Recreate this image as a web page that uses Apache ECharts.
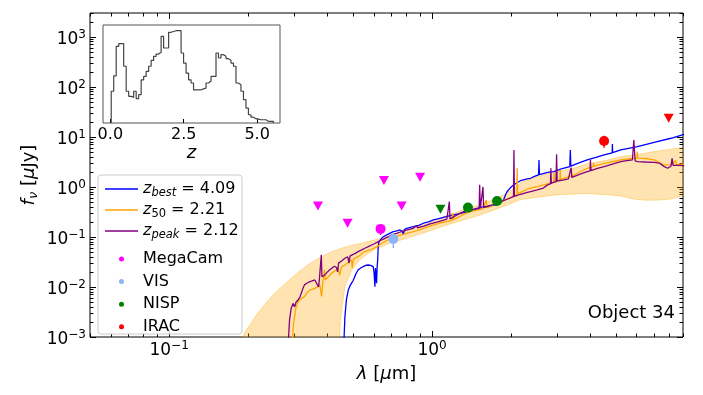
<!DOCTYPE html>
<html>
<head>
<meta charset="utf-8">
<script src="https://cdn.jsdelivr.net/npm/echarts@6/dist/echarts.min.js"></script>
<style>
html,body{margin:0;padding:0;background:#fff;}
#main{width:703px;height:395px;}
</style>
</head>
<body>
<div id="main"></div>
<script>
var FONT = 'DejaVu Sans';

// best-fit SEDs, [lambda in um, f_nu in uJy]
var zBestSed = [
  [0.461,0.0006],[0.466,0.0025],[0.472,0.0055],[0.480,0.0087],[0.487,0.0105],[0.494,0.0119],
  [0.501,0.0135],[0.508,0.0161],[0.515,0.019],[0.523,0.0219],[0.535,0.024],[0.547,0.0255],
  [0.559,0.027],[0.571,0.0275],[0.584,0.027],[0.597,0.0255],[0.602,0.0187],[0.606,0.0101],
  [0.609,0.024],[0.612,0.0255],[0.615,0.0119],[0.618,0.025],[0.621,0.0346],[0.624,0.064],
  [0.628,0.0807],[0.633,0.087],[0.650,0.10],[0.672,0.11],[0.690,0.118],[0.712,0.128],
  [0.735,0.132],[0.755,0.138],[0.770,0.13],[0.777,0.11],[0.785,0.14],[0.800,0.149],
  [0.849,0.161],[0.89,0.17],[0.927,0.188],[0.97,0.20],[1.011,0.219],[1.05,0.23],
  [1.105,0.247],[1.15,0.26],[1.206,0.275],[1.26,0.29],[1.317,0.307],[1.38,0.33],
  [1.438,0.357],[1.525,0.392],[1.60,0.41],[1.70,0.43],[1.766,0.437],[1.82,0.48],
  [1.87,0.55],[1.90,0.68],[1.93,0.81],[1.98,0.95],[2.04,1.1],[2.10,1.2],[2.17,1.33],
  [2.30,1.45],[2.37,1.49],[2.45,1.62],[2.54,1.74],[2.55,3.47],[2.56,1.76],[2.75,1.95],
  [2.90,2.03],[3.10,2.3],[3.34,2.55],[3.355,5.5],[3.37,2.6],[3.60,3.0],[3.89,3.47],
  [4.20,3.9],[4.51,4.37],[4.84,4.8],[4.85,7.2],[4.86,4.85],[5.22,5.5],[6.04,6.4],
  [6.99,7.8],[8.10,9.4],[9.08,11.3]
];
var z50Sed = [
  [0.293,0.0006],[0.297,0.0018],[0.300,0.00255],[0.304,0.0040],[0.309,0.0050],[0.314,0.0055],
  [0.320,0.0060],[0.327,0.0064],[0.335,0.0078],[0.343,0.0087],[0.350,0.0090],[0.358,0.0094],
  [0.366,0.0100],[0.374,0.0110],[0.380,0.0065],[0.384,0.0120],[0.390,0.022],[0.392,0.0138],
  [0.403,0.0160],[0.415,0.0188],[0.427,0.021],[0.439,0.0237],[0.445,0.017],[0.452,0.025],
  [0.466,0.0275],[0.480,0.031],[0.494,0.0346],[0.497,0.024],[0.502,0.036],[0.523,0.0404],
  [0.540,0.046],[0.555,0.051],[0.572,0.054],[0.589,0.0567],[0.606,0.061],[0.613,0.066],
  [0.624,0.066],[0.642,0.074],[0.662,0.0807],[0.680,0.087],[0.702,0.094],[0.760,0.110],
  [0.849,0.128],[0.90,0.140],[0.95,0.155],[1.00,0.170],[1.07,0.190],[1.138,0.203],
  [1.19,0.215],[1.197,0.30],[1.205,0.222],[1.26,0.25],[1.33,0.29],[1.40,0.32],[1.46,0.34],
  [1.525,0.358],[1.56,0.37],[1.607,0.55],[1.615,0.38],[1.70,0.43],[1.80,0.49],[1.90,0.56],
  [2.00,0.62],[2.10,0.70],[2.107,2.36],[2.115,0.72],[2.17,0.78],[2.30,0.90],[2.37,0.95],
  [2.51,1.01],[2.70,1.12],[2.90,1.25],[2.91,1.9],[2.92,1.27],[3.06,1.38],[3.07,2.2],
  [3.08,1.4],[3.17,1.49],[3.47,1.75],[3.89,2.36],[4.10,2.55],[4.11,3.0],[4.13,2.6],
  [4.51,2.97],[5.00,3.3],[5.22,3.47],[5.80,3.7],[6.02,3.75],[6.03,5.1],[6.05,3.75],
  [6.50,3.7],[6.99,3.47],[7.30,3.1],[7.64,2.75],[8.20,2.8],[8.44,3.4],[8.50,2.8],[9.08,2.85]
];
var zPeakSed = [
  [0.283,0.0006],[0.287,0.0022],[0.291,0.0037],[0.296,0.0047],[0.300,0.0040],[0.304,0.0050],
  [0.309,0.0055],[0.314,0.0062],[0.318,0.0075],[0.323,0.0095],[0.327,0.011],[0.335,0.012],
  [0.343,0.0128],[0.350,0.0132],[0.358,0.0138],[0.364,0.0145],[0.370,0.0100],[0.373,0.0150],
  [0.377,0.0152],[0.379,0.044],[0.381,0.016],[0.391,0.0174],[0.400,0.020],[0.408,0.022],
  [0.415,0.0237],[0.425,0.026],[0.433,0.0245],[0.437,0.020],[0.441,0.030],[0.455,0.034],
  [0.466,0.0375],[0.478,0.040],[0.483,0.030],[0.488,0.042],[0.494,0.0437],[0.510,0.047],
  [0.523,0.051],[0.540,0.055],[0.555,0.0594],[0.572,0.064],[0.589,0.069],[0.596,0.075],
  [0.606,0.074],[0.624,0.0807],[0.642,0.087],[0.662,0.094],[0.680,0.100],[0.702,0.110],
  [0.733,0.118],[0.770,0.13],[0.810,0.14],[0.849,0.149],[0.873,0.17],[0.880,0.152],
  [0.930,0.165],[0.983,0.182],[1.05,0.20],[1.10,0.215],[1.138,0.226],[1.155,0.23],
  [1.163,0.51],[1.170,0.23],[1.25,0.28],[1.317,0.321],[1.40,0.345],[1.48,0.365],
  [1.510,0.37],[1.517,1.1],[1.525,0.374],[1.545,0.38],[1.562,1.0],[1.570,0.385],
  [1.65,0.42],[1.766,0.471],[1.85,0.52],[1.95,0.58],[2.04,0.64],[2.048,5.5],[2.056,0.65],
  [2.17,0.714],[2.30,0.78],[2.37,0.81],[2.51,0.87],[2.65,0.95],[2.75,1.1],[2.82,1.15],
  [2.83,2.36],[2.84,1.18],[2.90,1.24],[2.96,1.27],[2.975,4.5],[2.99,1.3],[3.17,1.38],
  [3.30,1.45],[3.38,2.43],[3.40,1.55],[3.46,1.61],[3.70,1.85],[3.89,2.03],[3.99,2.1],
  [4.00,3.47],[4.02,2.12],[4.25,2.35],[4.51,2.55],[4.85,2.85],[5.22,3.21],[5.50,3.35],
  [5.78,3.47],[5.85,8.7],[5.92,3.3],[6.04,3.21],[6.50,3.15],[6.99,3.11],[7.30,3.0],
  [7.64,2.55],[7.87,2.36],[8.10,2.6],[8.18,3.75],[8.25,2.7],[8.60,2.7],[9.10,2.67]
];
// 16-84 percentile envelope
var bandUpper = [
  [0.185,0.0006],[0.193,0.0012],[0.205,0.0019],[0.217,0.0030],[0.235,0.0050],[0.252,0.0075],
  [0.270,0.0105],[0.291,0.0149],[0.315,0.021],[0.337,0.0275],[0.365,0.036],[0.391,0.0437],
  [0.420,0.052],[0.452,0.0594],[0.490,0.067],[0.523,0.0724],[0.565,0.080],[0.606,0.087],
  [0.650,0.097],[0.702,0.110],[0.800,0.135],[0.900,0.165],[1.00,0.20],[1.14,0.27],
  [1.30,0.34],[1.52,0.44],[1.80,0.62],[2.00,0.85],[2.20,1.25],[2.50,1.60],[2.90,1.95],
  [3.40,2.30],[3.90,2.90],[4.60,3.40],[5.20,4.00],[6.30,4.60],[7.00,5.10],[9.10,6.20]
];
var bandLower = [
  [0.440,0.0006],[0.445,0.0010],[0.448,0.0022],[0.466,0.0102],[0.494,0.0219],[0.531,0.0347],
  [0.571,0.0471],[0.615,0.059],[0.691,0.0747],[0.800,0.094],[0.95,0.125],[1.14,0.174],
  [1.52,0.275],[1.90,0.42],[2.17,0.56],[2.50,0.62],[3.00,0.70],[3.90,0.74],[4.60,0.70],
  [5.20,0.66],[5.90,0.57],[6.60,0.54],[7.40,0.55],[8.20,0.58],[9.10,0.68]
];

// photometry: [lambda, flux] and [lambda, flux, error]
var megacamLimits = [[0.368,0.417],[0.477,0.188],[0.656,1.34],[0.766,0.417],[0.900,1.56]];
var megacamPoints = [[0.637,0.145,0.035]];
var visPoints = [[0.712,0.091,0.031]];
var nispLimits = [[1.076,0.357]];
var nispPoints = [[1.369,0.386,0.02],[1.766,0.525,0.03]];
var iracPoints = [[4.51,8.3,2.2]];
var iracLimits = [[7.94,23.6]];

// inset redshift histogram
var histStart = 0.03;
var histWidth = 0.085;
var histCounts = [
  11.5,42,501,624,624,94,11.5,7.5,6.9,11.5,6.2,8.6,30,40,61,94,155,216,262,303,
  1162,435,435,1626,1738,1858,1858,1858,286,123,53,30,23,13,13,13,14,15,23,27,
  40,40,286,188,248,216,177,155,123,94,23,20,11.5,5.7,2.8,1.6,1.3,1.15,1.1,1.05,
  1.05,1.05,0.92,0.92,0.92
];

var xLabelTicks = [-1, 0];
var yLabelTicks = [-3, -2, -1, 0, 1, 2, 3];
var insetLabelTicks = [0, 2.5, 5];

var XMIN = 0.05, XMAX = 9, YMIN = 0.001, YMAX = 3000;
var HMIN = 0.8, HMAX = 3000;

function lg(p) { return [Math.log10(p[0]), Math.log10(p[1])]; }

function logTicks(lo, hi, minor) {
  var out = [];
  for (var e = -4; e <= 4; e++) {
    var k0 = minor ? 2 : 1, k1 = minor ? 9 : 1;
    for (var k = k0; k <= k1; k++) {
      var v = k * Math.pow(10, e);
      if (v >= lo * 0.999 && v <= hi * 1.001) out.push(Math.log10(v));
    }
  }
  return out;
}

function powLabel(v) {
  var e = Math.round(v);
  return '{b|10}{s|' + (e < 0 ? '\u2212' + (-e) : e) + '}';
}
var powRich = {
  b: { fontFamily: FONT, fontSize: 17, color: '#000', lineHeight: 22 },
  s: { fontFamily: FONT, fontSize: 12, color: '#000', lineHeight: 10, verticalAlign: 'top' }
};

function tickAxis(grid, pos, lo, hi, ticks, len) {
  return {
    gridIndex: grid, type: 'value', position: pos,
    min: Math.log10(lo), max: Math.log10(hi),
    axisLine: { show: false, onZero: false }, splitLine: { show: false },
    axisTick: { show: true, inside: true, length: len, customValues: ticks,
      lineStyle: { color: '#000', width: 1 } },
    axisLabel: { show: false }
  };
}

var xMajor = logTicks(XMIN, XMAX, false), xMinor = logTicks(XMIN, XMAX, true);
var yMajor = logTicks(YMIN, YMAX, false), yMinor = logTicks(YMIN, YMAX, true);

var xMain = tickAxis(0, 'bottom', XMIN, XMAX, xMajor, 6);
xMain.axisLabel = { show: true, customValues: xLabelTicks, formatter: powLabel, margin: 3, rich: powRich };
xMain.name = '{i|\u03bb} [{i|\u00b5}m]';
xMain.nameLocation = 'middle';
xMain.nameGap = 28;
xMain.nameTextStyle = { fontFamily: FONT, fontSize: 18, color: '#000',
  rich: { i: { fontFamily: FONT, fontSize: 18, fontStyle: 'italic', color: '#000' } } };

var yMain = tickAxis(0, 'left', YMIN, YMAX, yMajor, 6);
yMain.axisLabel = { show: true, customValues: yLabelTicks, formatter: powLabel, margin: 4,
  padding: [6, 0, 0, 0], rich: powRich };
yMain.name = '{i|f}{s|\u03bd} [{i|\u00b5}Jy]';
yMain.nameLocation = 'middle';
yMain.nameGap = 50;
yMain.nameMoveOverlap = false;
yMain.nameTextStyle = { fontFamily: FONT, fontSize: 18, color: '#000',
  rich: {
    i: { fontFamily: FONT, fontSize: 18, fontStyle: 'italic', color: '#000', lineHeight: 22 },
    s: { fontFamily: FONT, fontSize: 13, fontStyle: 'italic', color: '#000', lineHeight: 10, verticalAlign: 'bottom' }
  } };

// inset axes
var insetX = {
  gridIndex: 1, type: 'value', min: -0.25, max: 5.78,
  axisLine: { show: false, onZero: false }, splitLine: { show: false },
  axisTick: { show: true, inside: true, length: 4, customValues: insetLabelTicks, lineStyle: { color: '#000' } },
  axisLabel: { customValues: insetLabelTicks, margin: 4, fontFamily: FONT, fontSize: 16, color: '#000',
    formatter: function (v) { return v.toFixed(1); } },
  name: 'z', nameLocation: 'middle', nameGap: 20,
  nameTextStyle: { fontFamily: FONT, fontSize: 18, fontStyle: 'italic', color: '#000' }
};
var insetY = {
  gridIndex: 1, type: 'value', min: Math.log10(HMIN), max: Math.log10(HMAX),
  axisLine: { show: false, onZero: false }, splitLine: { show: false }, axisTick: { show: false }, axisLabel: { show: false }
};

var histLine = [[histStart, Math.log10(HMIN)]];
histCounts.forEach(function (c, i) { histLine.push([histStart + i * histWidth, Math.log10(c)]); });
var histEnd = histStart + histCounts.length * histWidth;
histLine.push([histEnd, Math.log10(histCounts[histCounts.length - 1])]);
histLine.push([histEnd, Math.log10(HMIN)]);

function sedLine(name, data, color) {
  return { name: name, type: 'line', data: data.map(lg), symbol: 'none', showSymbol: false,
    lineStyle: { color: color, width: 1.3 }, itemStyle: { color: color }, z: 3, clip: true, silent: true };
}
function pts(name, data, color, limit) {
  return { name: name, type: 'scatter', data: data.map(lg), z: 6,
    symbol: limit ? 'triangle' : 'circle', symbolRotate: limit ? 180 : 0,
    symbolSize: limit ? [10, 9] : 10, itemStyle: { color: color, opacity: 1 } };
}
function errBars(data, color) {
  return { type: 'custom', z: 5, silent: true,
    data: data.map(function (p) { return [Math.log10(p[0]), Math.log10(p[1] - p[2]), Math.log10(p[1] + p[2])]; }),
    renderItem: function (params, api) {
      var a = api.coord([api.value(0), api.value(1)]);
      var b = api.coord([api.value(0), api.value(2)]);
      return { type: 'line', shape: { x1: a[0], y1: a[1], x2: b[0], y2: b[1] },
        style: { stroke: color, lineWidth: 1.5 } };
    } };
}

var bandSeries = {
  type: 'custom', z: 1, silent: true, data: [[0, 0]],
  renderItem: function (params, api) {
    var pts = bandUpper.map(function (p) { return api.coord(lg(p)); });
    bandLower.slice().reverse().forEach(function (p) { pts.push(api.coord(lg(p))); });
    var cs = params.coordSys;
    return { type: 'polygon', shape: { points: pts },
      style: { fill: 'rgba(255,165,0,0.3)', stroke: 'rgba(255,165,0,0.35)', lineWidth: 1 },
      clipPath: { type: 'rect', shape: { x: cs.x, y: cs.y, width: cs.width, height: cs.height } } };
  }
};

var legendText = {
  zbest: '{i|z}{s|best}{t| = 4.09}',
  z50: '{i|z}{d|50}{t| = 2.21}',
  zpeak: '{i|z}{s|peak}{t| = 2.12}'
};
// legend glyphs: a short line, and a small dot centred in the same width
var lineIcon = 'path://M0,0H33V1.5H0Z';
var dotIcon = 'path://M0,2.5L0.01,2.5Z M33,2.5L32.99,2.5Z M14,2.5A2.5,2.5,0,1,1,19,2.5A2.5,2.5,0,1,1,14,2.5Z';

var chart = echarts.init(document.getElementById('main'));
chart.setOption({
  animation: false,
  backgroundColor: '#fff',
  title: { text: 'Object 34', right: 28, top: 304, padding: 0,
    textStyle: { fontFamily: FONT, fontSize: 18, fontWeight: 'normal', color: '#000' } },
  grid: [
    { left: 90, right: 20, top: 13, bottom: 58, show: true, borderColor: '#000', borderWidth: 1, backgroundColor: 'transparent' },
    { left: 103, top: 25, width: 177, height: 98, show: true, borderColor: '#555', borderWidth: 1, backgroundColor: '#fff' }
  ],
  xAxis: [
    xMain,
    tickAxis(0, 'bottom', XMIN, XMAX, xMinor, 3.5),
    tickAxis(0, 'top', XMIN, XMAX, xMajor, 6),
    tickAxis(0, 'top', XMIN, XMAX, xMinor, 3.5),
    insetX
  ],
  yAxis: [
    yMain,
    tickAxis(0, 'left', YMIN, YMAX, yMinor, 3.5),
    tickAxis(0, 'right', YMIN, YMAX, yMajor, 6),
    tickAxis(0, 'right', YMIN, YMAX, yMinor, 3.5),
    insetY
  ],
  graphic: [{
    type: 'rect', z: 20, shape: { x: 98, y: 175, width: 144, height: 159, r: 3 },
    style: { fill: 'rgba(255,255,255,0.8)', stroke: '#cccccc', lineWidth: 1 }
  }],
  legend: [
    { z: 21, left: 105, top: 181, orient: 'vertical', padding: 0, itemGap: 3, itemWidth: 33, itemHeight: 14,
      icon: lineIcon, selectedMode: false, data: ['zbest', 'z50', 'zpeak'],
      formatter: function (n) { return legendText[n]; },
      textStyle: { fontFamily: FONT, fontSize: 16, color: '#000',
        rich: {
          i: { fontFamily: FONT, fontSize: 16, fontStyle: 'italic', color: '#000', lineHeight: 20 },
          s: { fontFamily: FONT, fontSize: 11.5, fontStyle: 'italic', color: '#000', lineHeight: 10, verticalAlign: 'bottom' },
          d: { fontFamily: FONT, fontSize: 11.5, color: '#000', lineHeight: 10, verticalAlign: 'bottom' },
          t: { fontFamily: FONT, fontSize: 16, color: '#000', lineHeight: 20 }
        } } },
    { z: 21, left: 105, top: 251, orient: 'vertical', padding: 0, itemGap: 6.6, itemWidth: 33, itemHeight: 5,
      icon: dotIcon, selectedMode: false, data: ['MegaCam', 'VIS', 'NISP', 'IRAC'],
      textStyle: { fontFamily: FONT, fontSize: 16, color: '#000', lineHeight: 14 } }
  ],
  series: [
    bandSeries,
    sedLine('zbest', zBestSed, '#0000ff'),
    sedLine('z50', z50Sed, '#ffa500'),
    sedLine('zpeak', zPeakSed, '#800080'),
    errBars(megacamPoints, '#ff00ff'),
    errBars(visPoints, '#8ab4f8'),
    errBars(nispPoints, '#008000'),
    errBars(iracPoints, '#ff0000'),
    pts('MegaCam', megacamPoints, '#ff00ff', false),
    pts('MegaCam', megacamLimits, '#ff00ff', true),
    pts('VIS', visPoints, '#8ab4f8', false),
    pts('NISP', nispPoints, '#008000', false),
    pts('NISP', nispLimits, '#008000', true),
    pts('IRAC', iracPoints, '#ff0000', false),
    pts('IRAC', iracLimits, '#ff0000', true),
    { type: 'line', xAxisIndex: 4, yAxisIndex: 4, step: 'end', data: histLine, symbol: 'none',
      showSymbol: false, lineStyle: { color: '#444', width: 1.2 }, z: 3, silent: true }
  ]
});
</script>
</body>
</html>
